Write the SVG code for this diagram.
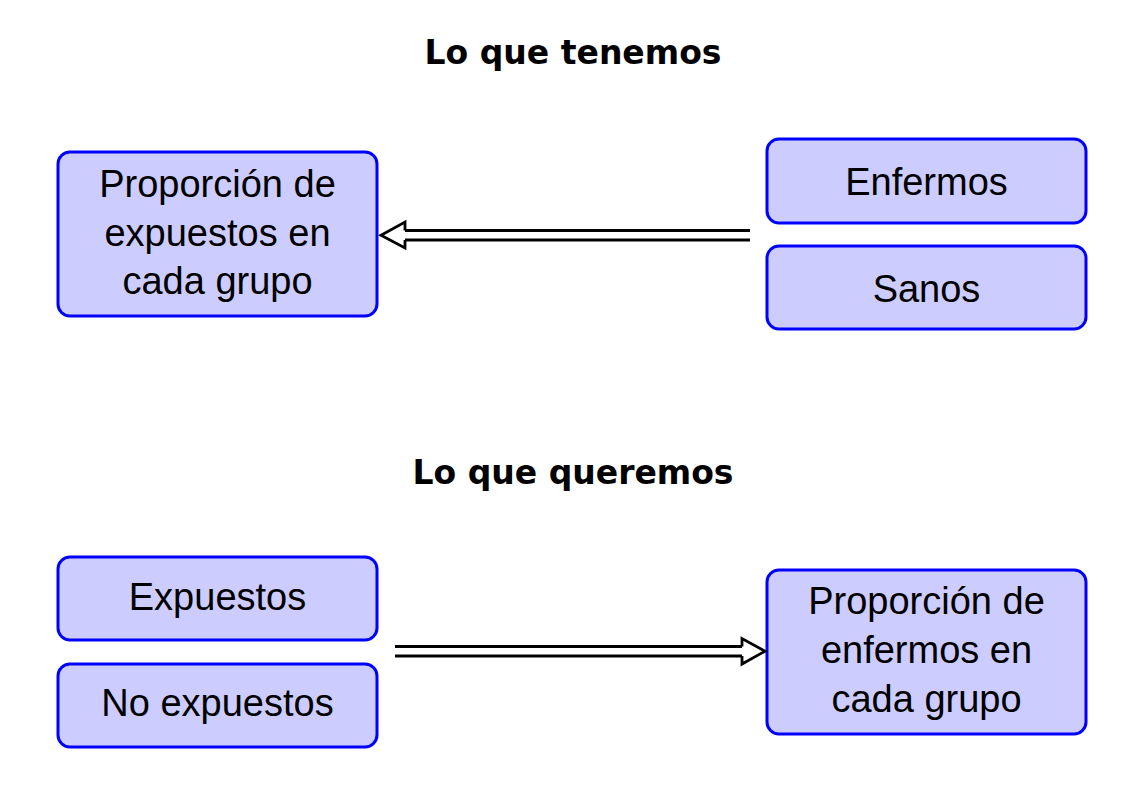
<svg xmlns="http://www.w3.org/2000/svg" width="1146" height="812" viewBox="0 0 1146 812">
<style>
.box{fill:#ccccff;stroke:#0000ff;stroke-width:3}
.t{font-family:"Liberation Sans",Arial,sans-serif;font-size:38px;text-anchor:middle;fill:#000}
.title{font-family:"DejaVu Sans",sans-serif;font-weight:bold;font-size:33px;text-anchor:middle;fill:#000}
.shaft{stroke:#000;stroke-width:2.8;fill:none}
.head{fill:#fff;stroke:#000;stroke-width:2.8;stroke-linejoin:miter}
</style>
<rect width="1146" height="812" fill="#fff"/>
<text class="title" x="573" y="64">Lo que tenemos</text>
<text class="title" x="573" y="484">Lo que queremos</text>
<g id="prop-expuestos">
<rect class="box" x="58" y="152" width="319" height="164" rx="12"/>
<text class="t" x="217.5" y="197">Proporción de</text>
<text class="t" x="217.5" y="245.5">expuestos en</text>
<text class="t" x="217.5" y="294">cada grupo</text>
</g>
<g id="enfermos">
<rect class="box" x="767" y="139" width="319" height="84" rx="12"/>
<text class="t" x="926.5" y="195">Enfermos</text>
</g>
<g id="sanos">
<rect class="box" x="767" y="246" width="319" height="83" rx="12"/>
<text class="t" x="926.5" y="302">Sanos</text>
</g>
<g id="expuestos">
<rect class="box" x="58" y="557" width="319" height="83" rx="12"/>
<text class="t" x="217.5" y="610">Expuestos</text>
</g>
<g id="no-expuestos">
<rect class="box" x="58" y="664" width="319" height="83" rx="12"/>
<text class="t" x="217.5" y="716">No expuestos</text>
</g>
<g id="prop-enfermos">
<rect class="box" x="767" y="570" width="319" height="164" rx="12"/>
<text class="t" x="926.5" y="614">Proporción de</text>
<text class="t" x="926.5" y="663">enfermos en</text>
<text class="t" x="926.5" y="712">cada grupo</text>
</g>
<g id="connectors">
<path class="shaft" d="M750 230.5 H404 M750 240 H404"/>
<polyline class="head" points="405,230.5 405,222 381,235.2 405,248 405,240"/>
<path class="shaft" d="M395 646.5 H742 M395 656 H742"/>
<polyline class="head" points="742,646.5 742,638.5 765,651.2 742,664 742,656"/>
</g>
</svg>
